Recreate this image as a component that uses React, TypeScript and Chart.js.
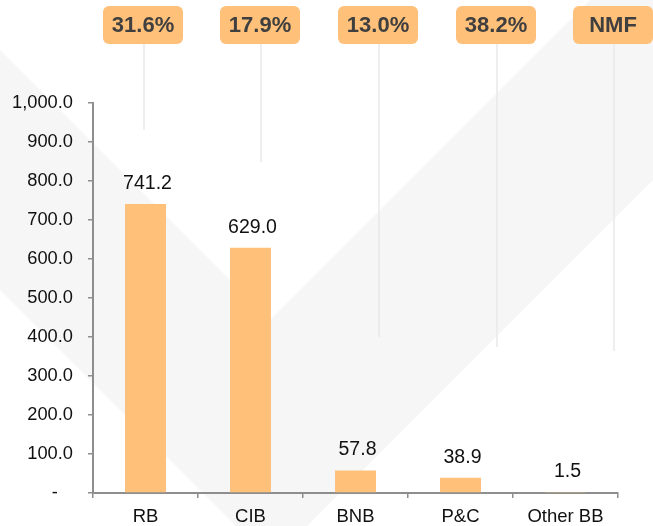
import React, { useEffect, useRef } from "react";
import { Chart, registerables } from "chart.js";

Chart.register(...registerables);

// ---- data ----
const categories = ["RB", "CIB", "BNB", "P&C", "Other BB"];
const values = [741.2, 629.0, 57.8, 38.9, 1.5];
const growthLabels = ["31.6%", "17.9%", "13.0%", "38.2%", "NMF"];
const yMin = 0;
const yMax = 1000;
const yStep = 100;

// ---- layout / style constants ----
const W = 653;
const H = 526;
const FONT = '"Liberation Sans", Arial, Helvetica, sans-serif';
const BAR_COLOR = "#FFC07A";
const BADGE_COLOR = "#FFC07A";
const WATERMARK = "#f6f6f6";
const AXIS_COLOR = "#8e8e8e";
const BADGE_CENTERS = [143, 260, 378, 496, 613];
const CONNECTOR_ENDS = [130, 162, 337, 347, 351];

const decorPlugin = {
  id: "decor",
  beforeDraw(chart: any) {
    const ctx = chart.ctx as CanvasRenderingContext2D;
    ctx.save();
    ctx.fillStyle = "#ffffff";
    ctx.fillRect(0, 0, chart.width, chart.height);
    // faint "V" watermark
    ctx.fillStyle = WATERMARK;
    ctx.beginPath();
    ctx.moveTo(-300, -250); // inner left arm, far
    ctx.lineTo(270, 320); // inner tip
    ctx.lineTo(890, -300); // inner right arm, far
    ctx.lineTo(1133, -300); // outer right arm, far
    ctx.lineTo(271.5, 561.5); // outer tip
    ctx.lineTo(-600, -310); // outer left arm, far
    ctx.closePath();
    ctx.fill();
    ctx.restore();
  },
  afterDatasetsDraw(chart: any) {
    const ctx = chart.ctx as CanvasRenderingContext2D;
    const meta = chart.getDatasetMeta(0);
    ctx.save();
    ctx.font = `19.5px ${FONT}`;
    ctx.fillStyle = "#111111";
    ctx.textAlign = "center";
    ctx.textBaseline = "alphabetic";
    meta.data.forEach((el: any, i: number) => {
      ctx.fillText(values[i].toFixed(1), el.x + 2, el.y - 15);
    });
    ctx.restore();
  },
  afterDraw(chart: any) {
    const ctx = chart.ctx as CanvasRenderingContext2D;
    ctx.save();
    const bw = 80;
    const bh = 38;
    const top = 6;
    growthLabels.forEach((label, i) => {
      const cx = BADGE_CENTERS[i];
      // connector line
      ctx.strokeStyle = "#e8e8e8";
      ctx.lineWidth = 1.5;
      ctx.beginPath();
      ctx.moveTo(cx + 1, top + bh);
      ctx.lineTo(cx + 1, CONNECTOR_ENDS[i]);
      ctx.stroke();
      // badge
      ctx.fillStyle = BADGE_COLOR;
      ctx.beginPath();
      (ctx as any).roundRect(cx - bw / 2, top, bw, bh, 6);
      ctx.fill();
      ctx.fillStyle = "#3f3f3f";
      ctx.font = `bold 22px ${FONT}`;
      ctx.textAlign = "center";
      ctx.textBaseline = "middle";
      ctx.fillText(label, cx, top + bh / 2 + 1);
    });
    ctx.restore();
  },
};

export default function App() {
  const ref = useRef<HTMLCanvasElement | null>(null);

  useEffect(() => {
    if (!ref.current) return;
    const chart = new Chart(ref.current, {
      type: "bar",
      data: {
        labels: categories,
        datasets: [
          {
            data: values,
            backgroundColor: BAR_COLOR,
            borderWidth: 0,
            barPercentage: 0.39,
            categoryPercentage: 1,
          },
        ],
      },
      options: {
        responsive: false,
        animation: false,
        devicePixelRatio: 1,
        layout: { padding: { top: 103, right: 35, left: 0, bottom: 0 } },
        plugins: {
          legend: { display: false },
          tooltip: { enabled: false },
          title: { display: false },
        },
        scales: {
          x: {
            offset: true,
            grid: {
              drawOnChartArea: false,
              drawTicks: true,
              tickLength: 5,
              color: AXIS_COLOR,
              lineWidth: 1.5,
              offset: true,
            },
            border: { display: true, color: AXIS_COLOR, width: 2 },
            ticks: {
              color: "#111111",
              font: { family: FONT, size: 18.5 },
              padding: 8,
              maxRotation: 0,
              autoSkip: false,
            },
            afterFit(scale: any) {
              scale.height = 33;
            },
          },
          y: {
            min: yMin,
            max: yMax,
            grid: {
              drawOnChartArea: false,
              drawTicks: true,
              tickLength: 5,
              color: AXIS_COLOR,
              lineWidth: 1.5,
            },
            border: { display: true, color: AXIS_COLOR, width: 2 },
            ticks: {
              stepSize: yStep,
              color: "#111111",
              font: { family: FONT, size: 18.3 },
              padding: 15,
              callback: (v: any) =>
                Number(v) === 0
                  ? "-   "
                  : Number(v).toLocaleString("en-US", {
                      minimumFractionDigits: 1,
                      maximumFractionDigits: 1,
                    }),
            },
            afterFit(scale: any) {
              scale.width = 93;
            },
          },
        },
      },
      plugins: [decorPlugin],
    });
    return () => chart.destroy();
  }, []);

  return (
    <div
      style={{
        position: "fixed",
        left: 0,
        top: 0,
        width: W,
        height: H,
        background: "#fff",
      }}
    >
      <canvas
        ref={ref}
        width={W}
        height={H}
        style={{ display: "block", width: W, height: H }}
      />
    </div>
  );
}
